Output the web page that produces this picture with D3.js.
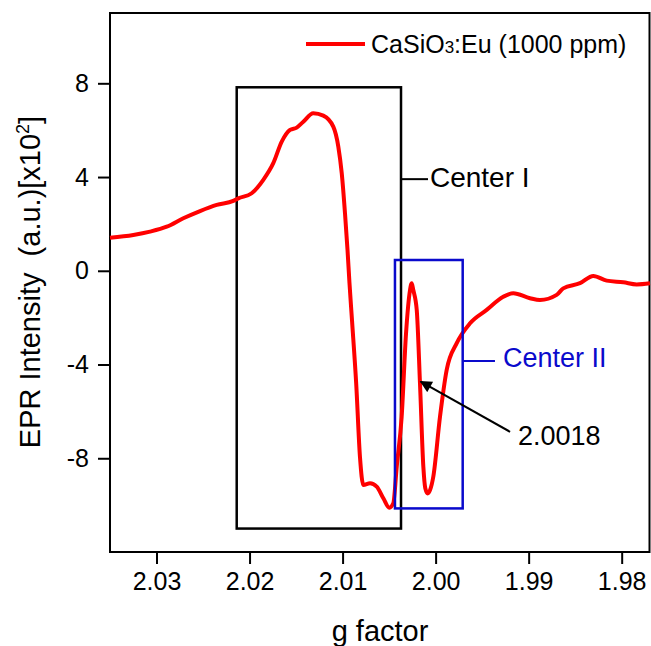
<!DOCTYPE html>
<html>
<head>
<meta charset="utf-8">
<script src="https://cdn.jsdelivr.net/npm/d3@7"></script>
<style>
  body { margin: 0; background: #fff; }
  svg { display: block; font-family: "Liberation Sans", Arial, sans-serif; }
</style>
</head>
<body>
<svg id="chart" width="651" height="646"></svg>
<script>
// g factor values (x) and EPR intensity in units of 10^2 (y)
const gValues = [2.0350, 2.03249, 2.03070, 2.02890, 2.02712, 2.02532, 2.02353, 2.02175, 2.02121, 2.01977,
  2.01852, 2.01745, 2.01654, 2.01565, 2.01493, 2.01422, 2.01315, 2.01207, 2.01100, 2.01046,
  2.01009, 2.00974, 2.00947, 2.00926, 2.00899, 2.00854, 2.00813, 2.00777, 2.00705, 2.00633,
  2.00562, 2.00498, 2.00455, 2.00418, 2.00365, 2.00318, 2.00275, 2.00257, 2.00240, 2.00203,
  2.00168, 2.00132, 2.00111, 2.00085, 2.00060, 2.00025, 1.99953, 1.99881, 1.99773, 1.99630,
  1.99451, 1.99273, 1.99165, 1.98986, 1.98878, 1.98699, 1.98628, 1.98448, 1.98305, 1.98161,
  1.97983, 1.97839, 1.97696]
const intensity = [1.41, 1.53, 1.67, 1.88, 2.24, 2.55, 2.81, 2.98, 3.09, 3.31,
  3.88, 4.59, 5.51, 6.01, 6.11, 6.36, 6.72, 6.62, 6.15, 5.30,
  4.16, 2.45, 0.89, -0.52, -2.10, -4.79, -7.95, -9.14, -9.07, -9.21,
  -9.71, -10.11, -9.92, -8.36, -6.23, -2.67, -0.82, -0.53, -0.82, -1.67,
  -4.80, -8.36, -9.28, -9.50, -9.36, -8.79, -6.23, -4.23, -3.09, -2.24,
  -1.67, -1.11, -0.96, -1.17, -1.25, -1.03, -0.75, -0.53, -0.22, -0.42,
  -0.49, -0.58, -0.53]

const xTicks = [2.03, 2.02, 2.01, 2.00, 1.99, 1.98]
const yTicks = [-8, -4, 0, 4, 8]

// annotation boxes, in data units
const centerOneBox = {g1: 2.02138, g2: 2.00372, v1: 7.83, v2: -11.0}
const centerTwoBox = {g1: 2.00437, g2: 1.99709, v1: 0.46, v2: -10.14}

const data = gValues.map((g, i) => ({g: g, v: intensity[i]}))

const plotLeft = 110, plotRight = 649.5, plotTop = 13, plotBottom = 552

const x = d3.scaleLinear().domain([2.0350, 1.97701]).range([plotLeft, plotRight])
const y = d3.scaleLinear().domain([-12, 11]).range([plotBottom, plotTop])

const svg = d3.select("#chart")

// axes
svg.append("g")
  .attr("transform", `translate(0,${plotBottom})`)
  .call(d3.axisBottom(x).tickValues(xTicks).tickFormat(d => d.toFixed(2)).tickSize(12).tickPadding(8))
  .call(g => g.select(".domain").remove())
  .call(g => g.selectAll("line").attr("stroke-width", 2))
  .call(g => g.selectAll("text").attr("font-size", 25).attr("font-family", null).attr("fill", "#000"))

svg.append("g")
  .attr("transform", `translate(${plotLeft},0)`)
  .call(d3.axisLeft(y).tickValues(yTicks).tickFormat(d => String(d)).tickSize(12).tickPadding(9))
  .call(g => g.select(".domain").remove())
  .call(g => g.selectAll("line").attr("stroke-width", 2))
  .call(g => g.selectAll("text").attr("font-size", 25).attr("font-family", null).attr("fill", "#000"))

// frame
svg.append("rect")
  .attr("x", plotLeft).attr("y", plotTop)
  .attr("width", plotRight - plotLeft).attr("height", plotBottom - plotTop)
  .attr("fill", "none").attr("stroke", "#000").attr("stroke-width", 2)

// axis titles
svg.append("text")
  .attr("x", 380).attr("y", 641)
  .attr("text-anchor", "middle")
  .attr("font-size", 29)
  .text("g factor")

const yl = svg.append("text")
  .attr("transform", "translate(40,282) rotate(-90)")
  .attr("text-anchor", "middle")
  .attr("font-size", 29)
yl.append("tspan").text("EPR Intensity\u00a0\u00a0(a.u.)[x10")
yl.append("tspan").attr("font-size", 18).attr("dy", -11).text("2")
yl.append("tspan").attr("dy", 11).text("]")

// boxes
function box(b, color) {
  svg.append("rect")
    .attr("x", x(b.g1)).attr("y", y(b.v1))
    .attr("width", x(b.g2) - x(b.g1)).attr("height", y(b.v2) - y(b.v1))
    .attr("fill", "none").attr("stroke", color).attr("stroke-width", 2.5)
}
box(centerOneBox, "#000")

// curve
const line = d3.line()
  .x(d => x(d.g))
  .y(d => y(d.v))
  .curve(d3.curveMonotoneX)

svg.append("path")
  .datum(data)
  .attr("d", line)
  .attr("fill", "none")
  .attr("stroke", "#ff0000")
  .attr("stroke-width", 4)
  .attr("stroke-linejoin", "round")

box(centerTwoBox, "#0a0acc")

// Center I label
svg.append("line")
  .attr("x1", x(centerOneBox.g2)).attr("x2", x(2.00082))
  .attr("y1", y(3.91)).attr("y2", y(3.91))
  .attr("stroke", "#000").attr("stroke-width", 2)
svg.append("text")
  .attr("x", x(2.00061)).attr("y", y(3.59))
  .attr("font-size", 28)
  .text("Center I")

// Center II label
svg.append("line")
  .attr("x1", x(centerTwoBox.g2)).attr("x2", x(1.99362))
  .attr("y1", y(-3.85)).attr("y2", y(-3.85))
  .attr("stroke", "#0a0acc").attr("stroke-width", 2)
svg.append("text")
  .attr("x", x(1.99276)).attr("y", y(-4.12))
  .attr("font-size", 27)
  .attr("fill", "#0a0acc")
  .text("Center II")

// arrow to 2.0018
svg.append("defs").append("marker")
  .attr("id", "head")
  .attr("viewBox", "0 0 10 10")
  .attr("refX", 9).attr("refY", 5)
  .attr("markerWidth", 7).attr("markerHeight", 6)
  .attr("markerUnits", "strokeWidth")
  .attr("orient", "auto")
  .append("path").attr("d", "M0,0L10,5L0,10z").attr("fill", "#000")

svg.append("line")
  .attr("x1", x(1.99200)).attr("y1", y(-6.87))
  .attr("x2", x(2.00160)).attr("y2", y(-4.73))
  .attr("stroke", "#000").attr("stroke-width", 2)
  .attr("marker-end", "url(#head)")

svg.append("text")
  .attr("x", x(1.99114)).attr("y", y(-7.43))
  .attr("font-size", 27)
  .text("2.0018")

// legend
svg.append("line")
  .attr("x1", 306).attr("x2", 365).attr("y1", 44).attr("y2", 44)
  .attr("stroke", "#ff0000").attr("stroke-width", 4)
const lt = svg.append("text")
  .attr("x", 371).attr("y", 53)
  .attr("font-size", 25)
lt.append("tspan").text("CaSiO")
lt.append("tspan").attr("font-size", 17).text("3")
lt.append("tspan").text(":Eu (1000 ppm)")
</script>
</body>
</html>
